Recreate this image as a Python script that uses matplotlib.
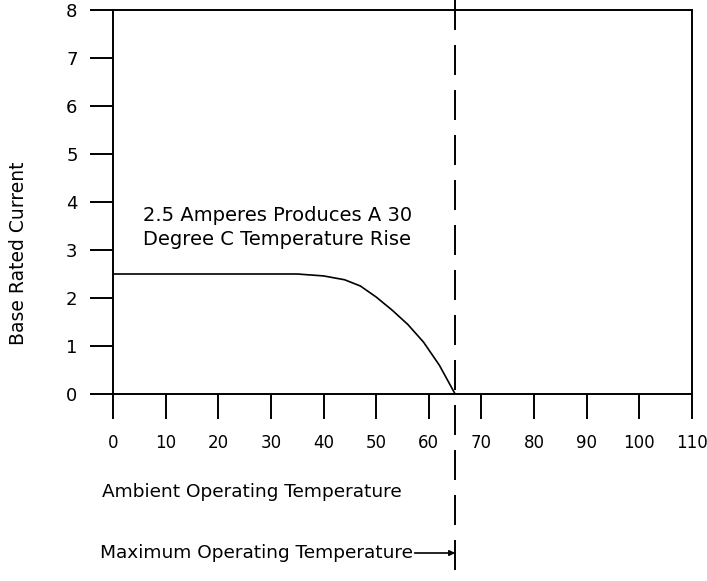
import matplotlib
matplotlib.use("Agg")
import matplotlib.pyplot as plt

# derating curve
temp = [0, 35, 40, 44, 47, 50, 53, 56, 59, 62, 65]
current = [2.5, 2.5, 2.46, 2.38, 2.25, 2.02, 1.75, 1.45, 1.08, 0.6, 0]
xticks = list(range(0, 111, 10))
yticks = list(range(0, 9))
max_temp = 65

plt.rcParams['font.family'] = 'DejaVu Sans'
plt.rcParams['lines.scale_dashes'] = False

W, H = 707, 581
fig = plt.figure(figsize=(W / 100, H / 100), dpi=100)
ax = fig.add_axes([113 / W, 1 - 394 / H, (692 - 113) / W, (394 - 10) / H])
ax.set_xlim(0, 110)
ax.set_ylim(0, 8)

for s in ax.spines.values():
    s.set_linewidth(1.4)
ax.set_xticks(xticks)
ax.set_yticks(yticks)
ax.tick_params(axis='y', direction='out', length=16.5, width=1.4, pad=9, labelsize=13)
ax.tick_params(axis='x', direction='out', length=18, width=1.4, pad=11, labelsize=12)

ax.plot(temp, current, color='black', lw=1.2)

# dashed line for the maximum temperature, runs past the axes
ytop = 394 / 48
ybot = (394 - 581) / 48
ax.plot([max_temp, max_temp], [ytop, ybot], color='black', lw=1.4,
        linestyle=(0, (21.6, 10.8)), clip_on=False)

ax.text(5.7, 3.47, "2.5 Amperes Produces A 30\nDegree C Temperature Rise",
        fontsize=14, va='center', ha='left', linespacing=1.3)

fig.text(19 / W, 1 - 253 / H, "Base Rated Current", rotation=90,
         fontsize=13.5, ha='center', va='center')
fig.text(102 / W, 1 - 492 / H, "Ambient Operating Temperature",
         fontsize=13.3, ha='left', va='center')

fig.text(100 / W, 1 - 553 / H, "Maximum Operating Temperature",
         fontsize=13.3, ha='left', va='center')
ax.annotate("", xy=(max_temp, (394 - 553) / 48), xytext=(57.3, (394 - 553) / 48),
            arrowprops=dict(arrowstyle='-|>', color='black', lw=1.2,
                            mutation_scale=8, shrinkA=0, shrinkB=0),
            annotation_clip=False)

fig.savefig("out.png", dpi=100)
